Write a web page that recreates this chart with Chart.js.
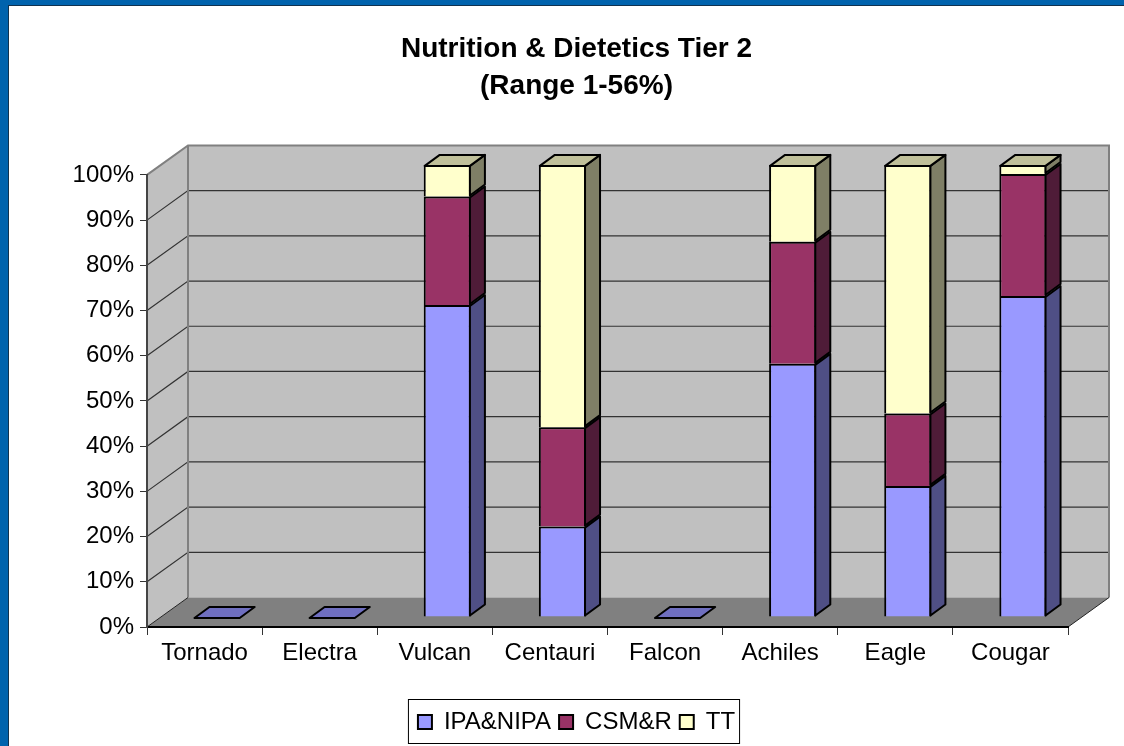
<!DOCTYPE html>
<html>
<head>
<meta charset="utf-8">
<title>Nutrition & Dietetics Tier 2</title>
<script src="https://cdn.jsdelivr.net/npm/chart.js@4"></script>
<style>
    html, body { margin: 0; height: 100%; overflow: hidden; background: #0063ad; }
    #sheet { position: absolute; left: 8px; top: 5px; right: 0; bottom: 0; background: #fff;
             border-left: 1px solid #10324f; border-top: 1px solid #10324f; }
    #myChart { position: absolute; left: 0; top: 0; }
</style>
</head>
<body>
<div id="sheet"></div>
<canvas id="myChart" width="1124" height="746"></canvas>
<script>
var titleLines = ['Nutrition & Dietetics Tier 2', '(Range 1-56%)'];
var categories = ['Tornado', 'Electra', 'Vulcan', 'Centauri', 'Falcon', 'Achiles', 'Eagle', 'Cougar'];
var seriesNames = ['IPA&NIPA', 'CSM&R', 'TT'];
var ipaNipa = [0, 0, 69, 20, 0, 56, 29, 71];
var csmR    = [0, 0, 24, 22, 0, 27, 16, 27];
var tt      = [0, 0,  7, 58, 0, 17, 55,  2];

var frontColors = ['#9999ff', '#993366', '#ffffcc'];
var sideColors  = ['#4f4f85', '#4f1c38', '#7f7f66'];
var topColors   = ['#6f6fc0', '#7a2a52', '#c0c09a'];

// how far the back wall sits behind the axes, and the bars inside that depth
var wallDx = 41, wallDy = -29.5;
var barDx = 12.5, barDy = -10;
var depthDx = 15, depthDy = -11;

function poly(ctx, pts, fill, stroke, lineWidth) {
    ctx.beginPath();
    pts.forEach(function(p, i) {
        if (i === 0) ctx.moveTo(p[0], p[1]);
        else ctx.lineTo(p[0], p[1]);
    });
    ctx.closePath();
    if (fill) { ctx.fillStyle = fill; ctx.fill(); }
    if (stroke) { ctx.strokeStyle = stroke; ctx.lineWidth = lineWidth; ctx.stroke(); }
}

// grey walls, floor and grid lines behind everything
var wallsPlugin = {
    id: 'walls',
    beforeDraw: function(chart) {
        var ctx = chart.ctx, a = chart.chartArea, y = chart.scales.y;
        var l = a.left, r = a.right, t = a.top, b = a.bottom;
        var bl = l + wallDx, br = r + wallDx, bt = t + wallDy, bb = b + wallDy;

        ctx.save();
        poly(ctx, [[bl, bt], [br, bt], [br, bb], [bl, bb]], '#c0c0c0');
        poly(ctx, [[l, t], [bl, bt], [bl, bb], [l, b]], '#c0c0c0');
        poly(ctx, [[l, b], [bl, bb], [br, bb], [r, b]], '#808080');

        ctx.strokeStyle = '#333';
        ctx.lineWidth = 1.2;
        y.ticks.forEach(function(tick, i) {
            if (tick.value === 0 || tick.value === 100) return;
            var py = y.getPixelForTick(i);
            ctx.beginPath();
            ctx.moveTo(l, py);
            ctx.lineTo(bl, py + wallDy);
            ctx.lineTo(br, py + wallDy);
            ctx.stroke();
        });

        ctx.strokeStyle = '#808080';
        ctx.lineWidth = 2;
        ctx.beginPath();
        ctx.moveTo(bl, bb);
        ctx.lineTo(bl, bt);
        ctx.stroke();
        ctx.beginPath();
        ctx.moveTo(l, t);
        ctx.lineTo(bl, bt);
        ctx.lineTo(br, bt);
        ctx.lineTo(br, bb);
        ctx.stroke();
        ctx.strokeStyle = '#222';
        ctx.lineWidth = 1;
        ctx.beginPath();
        ctx.moveTo(r, b);
        ctx.lineTo(br, bb);
        ctx.moveTo(l, b);
        ctx.lineTo(bl, bb);
        ctx.stroke();
        ctx.restore();
    },
    // front faces are drawn by the bar elements, just moved into the depth
    beforeDatasetsDraw: function(chart) {
        chart.ctx.save();
        chart.ctx.translate(barDx, barDy);
    },
    afterDatasetsDraw: function(chart) {
        var ctx = chart.ctx;
        ctx.lineJoin = 'round';
        var metas = chart.data.datasets.map(function(d, i) { return chart.getDatasetMeta(i); });

        categories.forEach(function(c, j) {
            var topIndex = 0;
            metas.forEach(function(m, i) {
                var el = m.data[j];
                if (chart.data.datasets[i].data[j] > 0) {
                    topIndex = i;
                    var right = el.x + el.width / 2 - 1;
                    poly(ctx, [[right, el.y + 1], [right + depthDx, el.y + 1 + depthDy],
                        [right + depthDx, el.base - 1 + depthDy], [right, el.base - 1]],
                        sideColors[i], '#000', 2);
                }
            });
            var el = metas[topIndex].data[j];
            var x0 = el.x - el.width / 2 + 1, x1 = el.x + el.width / 2 - 1, ty = el.y + 1;
            poly(ctx, [[x0, ty], [x0 + depthDx, ty + depthDy], [x1 + depthDx, ty + depthDy], [x1, ty]],
                topColors[topIndex], '#000', 2);
        });
        ctx.restore();
    },
    // box around the legend, a bit taller than the legend block itself
    afterDraw: function(chart) {
        var ctx = chart.ctx, lg = chart.legend, boxes = lg.legendHitBoxes;
        var last = boxes[boxes.length - 1];
        ctx.save();
        ctx.strokeStyle = '#000';
        ctx.lineWidth = 1;
        ctx.strokeRect(boxes[0].left - 9.5, lg.top - 2.5, last.left + last.width - boxes[0].left + 14, lg.height + 2);
        ctx.restore();
    }
};

var datasets = [ipaNipa, csmR, tt].map(function(values, i) {
    return {
        label: seriesNames[i],
        data: values,
        backgroundColor: frontColors[i],
        borderColor: '#000',
        borderWidth: 2,
        clip: false
    };
});

Chart.defaults.font.family = '"Liberation Sans", Arial, sans-serif';
Chart.defaults.color = '#000';

var chart = new Chart(document.getElementById('myChart').getContext('2d'), {
    type: 'bar',
    data: { labels: categories, datasets: datasets },
    plugins: [wallsPlugin],
    options: {
        responsive: false,
        animation: false,
        layout: { padding: { left: 29, right: 0, top: 0, bottom: 2 } },
        categoryPercentage: 1,
        barPercentage: 0.41,
        plugins: {
            tooltip: { enabled: false },
            title: {
                display: true,
                text: titleLines,
                font: { size: 28, weight: 'bold', lineHeight: 1.32 },
                padding: { top: 31, bottom: 70 }
            },
            legend: {
                position: 'bottom',
                onClick: null,
                labels: { boxWidth: 14, boxHeight: 14, padding: 8, font: { size: 24 } }
            }
        },
        scales: {
            x: {
                stacked: true,
                grid: { drawOnChartArea: false, color: '#333', tickLength: 8 },
                border: { color: '#000', width: 2 },
                ticks: { font: { size: 24 }, padding: 4, maxRotation: 0 },
                afterFit: function(s) { s.height = 75; }
            },
            y: {
                stacked: true,
                min: 0,
                max: 100,
                grid: { drawOnChartArea: false, color: '#333', tickLength: 7 },
                border: { color: '#444', width: 2 },
                ticks: {
                    stepSize: 10,
                    font: { size: 24 },
                    padding: 6,
                    callback: function(v) { return v + '%'; }
                },
                afterFit: function(s) { s.width = 118; }
            },
            // empty axis, only keeps the room on the right for the 3d depth
            spare: {
                position: 'right',
                grid: { display: false },
                border: { display: false },
                ticks: { display: false },
                afterFit: function(s) { s.width = 56; }
            }
        }
    }
});
</script>
</body>
</html>
